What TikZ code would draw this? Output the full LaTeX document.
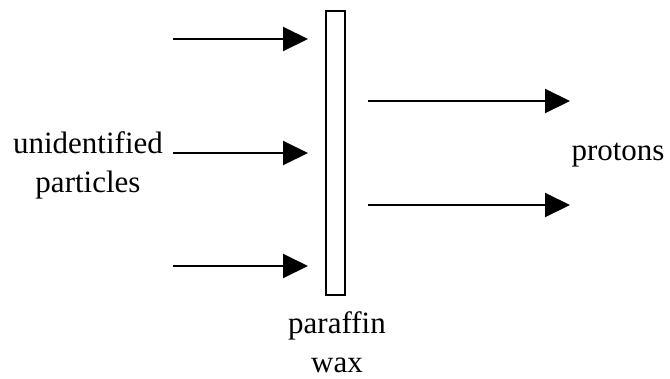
\documentclass[tikz,border=0pt]{standalone}
\usepackage{fontspec}
\setmainfont{Liberation Serif}
\usetikzlibrary{arrows.meta}
\begin{document}
\begin{tikzpicture}[x=1pt,y=-1pt,
  beam/.style={line width=2pt,-{Triangle[length=25pt,width=24pt]}},
  lbl/.style={font=\fontsize{31}{38.5}\selectfont,inner sep=0pt,align=center}]
\useasboundingbox (0,0) rectangle (670,378);
% paraffin slab
\node[draw,line width=1.8pt,minimum width=19pt,minimum height=284pt,inner sep=0pt,anchor=north west] (slab) at (325,10) {};
% incoming beams
\coordinate (i1) at (173,39);  \coordinate (o1) at (308,39);
\coordinate (i2) at (173,153); \coordinate (o2) at (308,153);
\coordinate (i3) at (173,266); \coordinate (o3) at (308,266);
\draw[beam] (i1) -- (o1);
\draw[beam] (i2) -- (o2);
\draw[beam] (i3) -- (o3);
% outgoing protons
\coordinate (p1) at (368,101); \coordinate (q1) at (570,101);
\coordinate (p2) at (368,205); \coordinate (q2) at (570,205);
\draw[beam] (p1) -- (q1);
\draw[beam] (p2) -- (q2);
% labels (base anchor sits on the last line)
\node[lbl,anchor=base] (src) at (88,192) {unidentified\\particles};
\node[lbl,anchor=base] (pro) at (618,160) {protons};
\node[lbl,anchor=base,text depth=0pt] (wax) at (337,372) {paraffin\\wax};
\end{tikzpicture}
\end{document}
